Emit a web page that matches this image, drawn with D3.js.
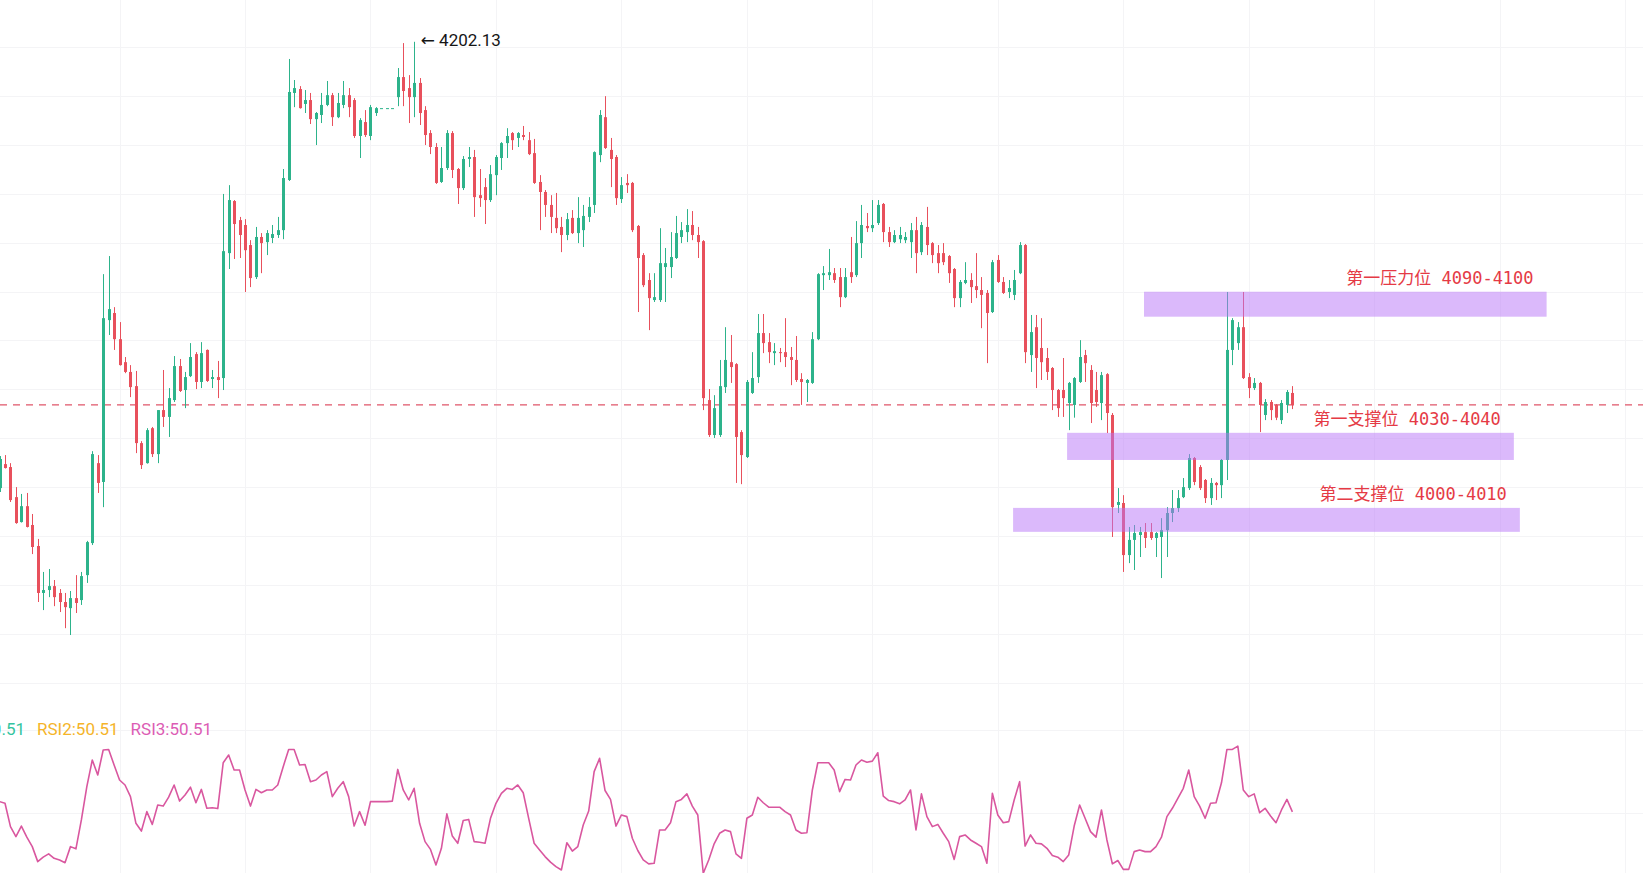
<!DOCTYPE html>
<html><head><meta charset="utf-8">
<script src="https://cdn.jsdelivr.net/npm/d3@7"></script>
<style>html,body{margin:0;padding:0;background:#fff;overflow:hidden}</style>
</head><body>
<svg id="chart" width="1643" height="873"></svg>
<script>
// ---------- data ----------
const opens = [4019.6,4029.4,4028.2,4015.9,4005.7,4012.2,4004.5,3995.9,3976.7,3977.9,
3979.5,3976.7,3973.0,3970.5,3974.6,3973.8,3984.0,3997.1,4029.8,4022.1,
4088.3,4091.2,4080.5,4071.1,4067.1,4061.3,4038.0,4029.8,4044.1,4033.5,
4051.5,4048.7,4055.6,4069.5,4059.7,4065.4,4074.4,4063.0,4076.1,4064.2,
4065.0,4064.6,4115.7,4137.0,4129.2,4127.2,4119.0,4105.9,4122.3,4120.2,
4121.9,4123.1,4125.1,4145.6,4181.2,4182.8,4176.7,4178.3,4170.5,4172.2,
4176.3,4180.3,4171.3,4176.3,4180.3,4178.3,4163.6,4169.3,4163.6,4173.0,
4175.0,4175.0,4175.0,4179.5,4187.7,4183.2,4179.5,4185.3,4174.2,4164.8,
4159.1,4144.8,4150.5,4164.8,4150.1,4142.3,4154.2,4155.0,4139.4,4142.7,
4137.4,4147.6,4154.6,4160.7,4164.8,4162.8,4164.0,4161.9,4156.6,4144.8,
4140.7,4135.4,4130.1,4126.4,4123.1,4130.1,4123.9,4125.1,4130.5,4135.4,
4155.8,4171.3,4157.9,4155.0,4137.8,4144.4,4144.4,4126.8,4114.9,4104.7,
4096.5,4096.5,4110.0,4110.0,4113.7,4122.3,4124.3,4127.2,4123.1,4120.6,
4055.6,4041.3,4041.3,4060.9,4071.1,4070.3,4042.5,4032.3,4058.5,4065.0,
4083.0,4079.3,4074.8,4075.2,4075.2,4073.2,4072.0,4064.2,4062.6,4062.6,
4080.5,4106.7,4106.7,4107.5,4105.9,4097.7,4107.9,4106.7,4119.8,4126.8,
4125.9,4128.0,4135.8,4124.3,4120.2,4121.4,4121.0,4120.2,4125.1,4116.1,
4126.4,4119.8,4115.7,4115.7,4114.5,4109.2,4097.3,4103.5,4104.7,4102.2,
4100.6,4099.4,4091.6,4112.9,4103.9,4099.8,4098.6,4107.5,4119.0,4074.0,
4085.4,4076.9,4072.8,4068.7,4059.7,4059.7,4054.4,4053.6,4063.0,4074.0,
4067.9,4059.7,4054.4,4066.2,4049.5,4012.7,4013.5,3992.2,3998.4,4000.4,
4001.6,4001.6,3999.2,3999.6,4002.4,4009.4,4011.4,4015.9,4019.6,4031.9,
4028.2,4022.9,4015.5,4021.7,4020.8,4031.1,4076.1,4078.9,4085.4,4065.0,
4060.5,4062.6,4049.5,4054.8,4053.6,4047.4,4053.6,4058.5];
const highs = [4032.7,4033.1,4029.8,4020.0,4017.2,4017.6,4009.0,3998.8,3985.3,3986.5,
3982.0,3978.3,3976.7,3977.5,3984.0,3985.3,3998.0,4034.7,4033.1,4107.1,
4114.5,4093.6,4087.5,4073.2,4069.9,4067.5,4038.8,4044.1,4044.6,4051.5,
4067.9,4060.5,4073.6,4072.4,4067.1,4078.9,4075.2,4079.3,4076.3,4067.9,
4071.6,4139.9,4143.5,4137.4,4130.5,4129.6,4121.0,4126.4,4123.9,4125.1,
4127.2,4130.5,4150.1,4195.1,4186.5,4184.0,4182.4,4181.2,4173.4,4181.2,
4186.1,4181.2,4181.2,4186.1,4183.2,4179.1,4170.9,4174.2,4176.3,4175.4,
4175.0,4175.0,4175.0,4191.4,4201.6,4188.5,4202.13,4187.3,4175.8,4166.0,
4160.7,4159.1,4166.0,4165.6,4150.5,4155.4,4159.1,4157.9,4150.1,4146.4,
4151.7,4155.8,4161.1,4166.8,4165.2,4165.2,4167.7,4165.2,4162.4,4147.6,
4141.5,4139.4,4140.3,4130.5,4132.1,4133.3,4138.6,4135.4,4138.6,4157.3,
4174.2,4179.9,4162.8,4155.8,4146.8,4148.0,4144.8,4127.2,4115.7,4107.5,
4107.5,4125.9,4117.8,4124.3,4130.9,4128.4,4133.7,4132.9,4126.4,4121.0,
4060.1,4057.6,4072.0,4085.4,4082.2,4070.7,4043.3,4063.8,4075.2,4090.8,
4090.8,4083.0,4078.9,4076.9,4089.1,4077.3,4081.8,4066.6,4064.2,4083.4,
4107.5,4110.4,4117.4,4109.6,4109.6,4109.6,4122.3,4128.8,4135.4,4132.1,
4137.4,4137.4,4136.2,4126.4,4125.1,4126.4,4124.3,4128.0,4130.5,4128.4,
4134.6,4120.2,4119.0,4119.8,4114.9,4109.6,4104.7,4112.0,4107.5,4115.7,
4105.9,4100.6,4112.9,4114.9,4105.9,4104.7,4108.8,4120.2,4119.4,4090.4,
4090.4,4089.1,4076.9,4069.1,4060.1,4072.8,4063.0,4065.0,4080.1,4076.1,
4069.9,4067.1,4067.1,4066.6,4050.3,4019.6,4016.7,4003.7,4004.5,4003.7,
4005.3,4005.3,4001.6,4007.3,4011.8,4018.8,4018.8,4023.7,4033.5,4032.3,
4029.0,4023.3,4023.7,4022.1,4031.5,4099.8,4089.1,4087.5,4099.8,4066.6,
4064.6,4063.0,4056.0,4055.6,4054.0,4055.6,4059.7,4061.3];
const lows = [4018.0,4027.6,4013.9,4005.0,4005.5,4003.5,3992.6,3973.0,3969.7,3975.0,
3971.3,3968.9,3962.3,3959.5,3968.5,3971.8,3980.8,3996.3,4017.6,4011.8,
4082.2,4076.1,4069.7,4066.6,4056.8,4033.9,4027.4,4029.6,4032.3,4029.8,
4044.6,4040.5,4054.8,4058.9,4052.3,4065.0,4060.1,4060.5,4063.0,4060.5,
4056.4,4059.7,4109.2,4113.3,4113.7,4099.8,4101.8,4105.1,4107.5,4114.9,
4119.8,4121.9,4121.4,4145.2,4175.4,4174.8,4173.0,4168.5,4159.9,4168.9,
4175.8,4167.7,4170.9,4175.0,4171.3,4162.8,4154.6,4163.2,4161.9,4171.8,
4175.0,4175.0,4175.0,4175.8,4175.8,4168.9,4171.3,4168.1,4159.9,4156.2,
4144.0,4144.4,4149.7,4146.4,4135.8,4141.5,4150.9,4130.5,4134.6,4127.6,
4136.6,4139.4,4149.7,4154.6,4157.9,4159.1,4161.9,4155.8,4144.0,4125.1,
4130.5,4123.9,4123.9,4116.1,4121.0,4123.5,4119.8,4118.2,4128.4,4132.1,
4152.9,4158.3,4142.7,4135.4,4136.2,4140.3,4124.3,4091.6,4101.8,4084.2,
4095.7,4095.7,4095.7,4105.5,4113.3,4119.8,4120.2,4121.0,4113.7,4051.5,
4040.5,4040.1,4040.5,4058.5,4062.6,4021.7,4021.2,4031.9,4058.1,4062.6,
4074.8,4070.7,4069.9,4071.1,4069.1,4061.7,4063.0,4053.6,4054.8,4062.2,
4080.1,4100.6,4104.7,4103.5,4093.6,4097.3,4103.5,4105.9,4113.7,4124.3,
4124.3,4127.2,4120.2,4118.2,4119.8,4119.8,4119.8,4113.7,4107.5,4114.9,
4114.9,4111.6,4107.5,4110.8,4103.5,4093.6,4093.6,4103.0,4095.3,4097.3,
4085.0,4070.7,4091.2,4103.5,4099.0,4097.3,4096.5,4107.1,4070.7,4067.1,
4060.5,4063.8,4063.8,4051.5,4048.7,4048.7,4043.3,4048.4,4062.6,4063.0,
4046.2,4052.8,4047.4,4042.1,3999.6,4009.4,3985.3,3988.9,3986.1,3991.4,
3995.1,3998.4,3991.4,3982.8,3991.4,4005.7,4009.8,4015.5,4018.8,4020.8,
4018.8,4013.5,4012.7,4014.7,4015.5,4022.9,4069.9,4076.1,4064.2,4056.4,
4059.7,4042.5,4047.4,4047.4,4047.4,4045.8,4050.3,4051.9];
const closes = [4031.5,4027.8,4014.7,4005.3,4012.2,4003.7,3995.5,3976.7,3977.9,3979.5,
3975.0,3973.0,3970.9,3974.6,3972.6,3983.6,3997.5,4033.5,4021.7,4089.1,
4092.8,4080.5,4069.9,4067.1,4060.9,4038.0,4029.0,4043.3,4033.5,4051.5,
4048.7,4056.4,4069.5,4059.3,4065.0,4073.2,4063.0,4074.8,4063.4,4065.0,
4063.8,4116.5,4137.4,4127.6,4123.1,4116.9,4105.5,4122.3,4119.8,4123.9,
4123.5,4125.1,4146.4,4181.6,4183.2,4175.0,4178.3,4170.5,4173.0,4176.3,
4180.3,4171.3,4177.1,4180.3,4175.4,4163.6,4170.1,4164.0,4175.4,4175.0,
4175.0,4175.0,4175.0,4187.7,4182.0,4179.5,4185.3,4173.0,4164.0,4159.1,
4144.4,4150.5,4164.8,4149.7,4142.3,4154.2,4155.0,4138.6,4138.2,4137.4,
4148.0,4155.0,4160.7,4163.6,4161.9,4164.8,4163.2,4156.2,4144.4,4140.7,
4135.4,4130.5,4125.9,4123.1,4129.6,4123.9,4130.1,4130.9,4134.6,4157.0,
4172.2,4158.7,4154.2,4138.2,4143.5,4143.5,4125.1,4113.7,4102.6,4097.3,
4097.7,4111.6,4111.6,4114.1,4123.9,4125.1,4127.2,4123.1,4120.2,4056.4,
4041.3,4052.3,4061.3,4072.0,4069.1,4040.5,4033.1,4063.0,4064.6,4083.0,
4078.9,4075.2,4075.6,4074.8,4073.2,4072.0,4063.8,4063.0,4063.8,4080.5,
4107.1,4107.5,4107.9,4104.7,4097.7,4105.9,4105.9,4119.8,4127.2,4125.9,
4127.2,4135.4,4124.3,4120.2,4123.1,4123.1,4122.3,4125.1,4115.7,4127.2,
4119.0,4114.9,4111.6,4112.0,4107.5,4097.3,4103.9,4104.7,4101.8,4100.6,
4098.6,4091.2,4112.0,4103.9,4099.4,4101.4,4104.7,4119.0,4075.2,4083.4,
4072.8,4071.1,4067.1,4059.7,4052.3,4056.4,4062.6,4064.6,4073.2,4070.7,
4054.4,4054.8,4065.8,4050.3,4011.8,4013.9,3992.2,3998.4,4001.2,4001.6,
3999.2,3999.2,4001.2,4002.4,4009.4,4011.4,4015.5,4020.0,4031.9,4022.1,
4019.6,4015.5,4021.7,4020.8,4031.1,4076.1,4088.3,4085.4,4064.6,4060.5,
4062.6,4053.6,4054.8,4051.5,4048.4,4054.4,4058.9,4053.6];
const rsi3 = [54.2,53.6,45.2,41.6,45.4,41.4,38.0,32.6,34.2,35.4,
33.8,33.2,32.2,38.0,37.2,47.6,59.6,69.2,63.8,72.8,
73.0,67.4,62.0,60.2,56.0,46.4,43.6,50.6,46.0,53.0,
52.6,55.8,60.2,54.4,56.6,59.4,53.8,58.6,51.8,52.0,
51.7,68.2,71.0,65.6,65.6,58.4,52.6,58.6,57.4,58.4,
58.4,60.2,66.8,73.0,73.0,67.4,67.6,61.4,62.0,63.8,
65.0,56.0,59.0,61.4,56.0,45.4,50.6,45.7,54.2,54.2,
54.2,54.2,54.4,65.8,58.4,54.8,59.0,46.4,39.8,37.0,
31.4,37.4,49.8,41.8,39.2,47.4,47.8,39.8,39.6,39.2,
48.2,53.6,57.2,59.0,58.6,60.2,57.4,48.2,39.2,36.8,
34.4,32.4,30.8,29.6,39.4,36.4,38.0,45.8,50.8,65.0,
69.8,58.2,55.0,45.4,49.4,48.8,41.0,36.6,33.2,31.8,
32.0,44.0,44.0,46.6,54.2,55.0,57.0,52.6,49.4,28.4,
33.2,39.0,42.8,44.0,43.4,35.4,33.8,48.2,49.4,55.8,
53.8,52.2,52.2,52.2,50.6,49.4,44.0,42.8,43.0,58.4,
68.2,68.2,68.2,65.6,57.8,62.2,62.0,67.4,69.2,68.4,
68.8,71.8,56.2,54.6,54.2,53.4,54.8,58.4,44.0,57.0,
48.8,45.2,46.0,42.8,39.8,33.4,41.6,42.2,40.4,39.2,
38.0,32.0,57.2,49.4,46.6,47.0,54.8,61.4,38.2,42.2,
39.2,39.0,37.4,34.8,34.2,32.6,35.0,45.4,53.0,48.2,
43.4,41.4,51.2,40.4,31.8,33.0,29.8,29.8,36.2,36.8,
36.2,36.2,38.0,41.4,48.8,51.8,55.4,59.0,65.6,56.0,
52.6,48.2,53.6,53.8,61.0,73.0,73.0,74.2,58.4,56.0,
57.0,50.2,51.8,49.0,46.6,51.2,55.0,50.51];

const highIndex = 76;
const highLabel = "4202.13";

const bandNames = ["第一压力位 4090-4100", "第一支撑位 4030-4040", "第二支撑位 4000-4010"];
const bandLow   = [4089.7, 4031.1, 4001.7];
const bandHigh  = [4099.9, 4042.2, 4011.5];
const bandStart = [209.8, 195.7, 185.8];
const bandEnd   = [283.6, 277.6, 278.7];

const rsiNames  = ["RSI1", "RSI2", "RSI3"];
const rsiValues = [50.51, 50.51, 50.51];

const priceGrid = [4200,4180,4160,4140,4120,4100,4080,4060,4040,4020,4000,3980,3960,3940];
const timeGrid  = [22,45,68,91,114,137,160,183,206,229,252,275,298];
const rsiGrid   = [80, 50];

// ---------- layout / style ----------
const W = 1643, H = 873;
const UP = "#2db38b", DOWN = "#e8505c";
const svg = d3.select("#chart");

const x = d3.scaleLinear().domain([0, 300]).range([-0.45, -0.45 + 5.455 * 300]);
const y = d3.scaleLinear().domain([4200, 3960]).range([47, 633.8]);
const ry = d3.scaleLinear().domain([50, 80]).range([813.3, 730]);

const data = opens.map((o, i) => ({i, o, h: highs[i], l: lows[i], c: closes[i]}));

// grid
const grid = svg.append("g").attr("stroke", "#f4f4f6").attr("stroke-width", 1);
grid.selectAll(".hp").data(priceGrid).join("line")
  .attr("x1", 0).attr("x2", W)
  .attr("y1", d => Math.round(y(d)) + 0.5).attr("y2", d => Math.round(y(d)) + 0.5);
grid.selectAll(".hr").data(rsiGrid).join("line")
  .attr("x1", 0).attr("x2", W)
  .attr("y1", d => Math.round(ry(d)) + 0.5).attr("y2", d => Math.round(ry(d)) + 0.5);
grid.selectAll(".v").data(timeGrid).join("line")
  .attr("y1", 0).attr("y2", H)
  .attr("x1", d => Math.round(x(d)) + 0.5).attr("x2", d => Math.round(x(d)) + 0.5);

// last price dashed line
const last = closes[closes.length - 1];
svg.append("line")
  .attr("x1", 0).attr("x2", W)
  .attr("y1", y(last)).attr("y2", y(last))
  .attr("stroke", "#e0566a").attr("stroke-width", 1.2)
  .attr("stroke-dasharray", "7,6");

// candles
const cg = svg.append("g");
const candle = cg.selectAll("g").data(data).join("g")
  .attr("fill", d => d.c >= d.o ? UP : DOWN)
  .attr("stroke", d => d.c >= d.o ? UP : DOWN);
candle.append("line")
  .attr("x1", d => Math.round(x(d.i)) + 0.5).attr("x2", d => Math.round(x(d.i)) + 0.5)
  .attr("y1", d => y(d.h)).attr("y2", d => y(d.l))
  .attr("stroke-width", 1);
candle.append("rect")
  .attr("stroke", "none")
  .attr("x", d => Math.round(x(d.i)) - 1)
  .attr("width", 3)
  .attr("y", d => y(Math.max(d.o, d.c)))
  .attr("height", d => Math.max(1, y(Math.min(d.o, d.c)) - y(Math.max(d.o, d.c))));

// bands
const bands = bandNames.map((n, k) => ({n, lo: bandLow[k], hi: bandHigh[k], s: bandStart[k], e: bandEnd[k]}));
svg.append("g").selectAll("rect").data(bands).join("rect")
  .attr("x", d => x(d.s)).attr("width", d => x(d.e) - x(d.s))
  .attr("y", d => y(d.hi)).attr("height", d => y(d.lo) - y(d.hi))
  .attr("fill", "#b874f7").attr("fill-opacity", 0.5);
svg.append("g").selectAll("text").data(bands).join("text")
  .attr("x", d => x(d.e) - 13).attr("y", d => y(d.hi) - 8)
  .attr("text-anchor", "end")
  .attr("fill", "#e53a45")
  .style("font-family", "'DejaVu Sans Mono','Noto Sans CJK SC',monospace")
  .style("font-size", "17px")
  .text(d => d.n);

// high annotation
svg.append("text")
  .attr("x", x(highIndex) + 6.5)
  .attr("y", y(highs[highIndex]) + 4)
  .attr("fill", "#151515")
  .style("font-family", "Roboto, 'DejaVu Sans', sans-serif")
  .style("font-size", "17px")
  .text("\u2190 " + highLabel);

// RSI line
const rsiLine = d3.line().x((d, i) => x(i)).y(d => ry(d));
svg.append("path").datum(rsi3)
  .attr("d", rsiLine)
  .attr("fill", "none")
  .attr("stroke", "#d9579f")
  .attr("stroke-width", 1.6)
  .attr("stroke-linejoin", "round");

// RSI legend (first entry runs off the left edge, as in the source)
const rsiColors = ["#33c4a0", "#f5b429", "#dc5cb4"];
const legY = 735;
svg.append("text").attr("x", 25).attr("y", legY).attr("text-anchor", "end")
  .attr("fill", rsiColors[0]).style("font-family", "Roboto, sans-serif").style("font-size", "17px")
  .text(rsiNames[0] + ":" + rsiValues[0].toFixed(2));
let lx = 37;
[1, 2].forEach(k => {
  const t = svg.append("text").attr("x", lx).attr("y", legY)
    .attr("fill", rsiColors[k]).style("font-family", "Roboto, sans-serif").style("font-size", "17px")
    .text(rsiNames[k] + ":" + rsiValues[k].toFixed(2));
  lx += t.node().getComputedTextLength() + 12;
});
</script>
</body></html>
